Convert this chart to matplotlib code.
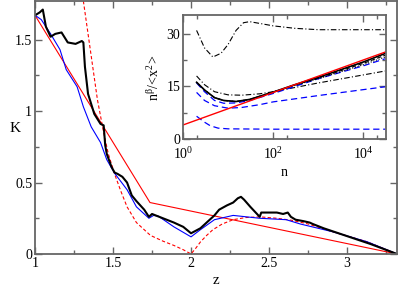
import matplotlib
matplotlib.use("Agg")
import numpy as np
from matplotlib import pyplot as plt
from matplotlib.ticker import FixedLocator, NullFormatter

plt.rcParams['font.family'] = ['Liberation Serif', 'DejaVu Serif']
plt.rcParams['mathtext.fontset'] = 'stix'

# main panel: K versus z
z_red = [1.0, 1.737, 3.32]
k_red = [1.67, 0.36, 0.0]

z_red_dash = [1.31, 1.34, 1.37, 1.40, 1.44, 1.47, 1.51, 1.55, 1.59, 1.65, 1.74, 1.82, 1.89,
              1.95, 2.0, 2.03, 2.06, 2.10, 2.14, 2.20, 2.27, 2.35, 2.44, 2.55, 2.65, 2.75,
              2.91, 3.13, 3.32]
k_red_dash = [1.77, 1.54, 1.31, 1.08, 0.85, 0.70, 0.56, 0.44, 0.33, 0.22, 0.13, 0.09, 0.06,
              0.03, 0.0, 0.04, 0.084, 0.13, 0.17, 0.21, 0.24, 0.255, 0.26, 0.25, 0.235, 0.21,
              0.155, 0.085, 0.0]

z_blue = [1.0, 1.04, 1.1, 1.16, 1.2, 1.27, 1.31, 1.36, 1.42, 1.46, 1.51, 1.59, 1.65, 1.73,
          1.76, 1.79, 1.89, 2.0, 2.06, 2.15, 2.27, 2.44, 2.61, 2.70, 2.91, 3.13, 3.32]
k_blue = [1.67, 1.64, 1.54, 1.43, 1.29, 1.17, 1.03, 0.89, 0.78, 0.66, 0.565, 0.45, 0.33, 0.25,
          0.27, 0.265, 0.19, 0.12, 0.17, 0.24, 0.27, 0.25, 0.24, 0.21, 0.155, 0.085, 0.0]

z_black = [1.0, 1.03, 1.05, 1.07, 1.1, 1.13, 1.17, 1.21, 1.26, 1.30, 1.31, 1.32, 1.34, 1.38,
           1.42, 1.44, 1.45, 1.46, 1.49, 1.51, 1.53, 1.56, 1.59, 1.62, 1.65, 1.70, 1.73,
           1.75, 1.82, 1.89, 1.95, 2.0, 2.06, 2.12, 2.15, 2.18, 2.23, 2.27, 2.30, 2.32, 2.34,
           2.38, 2.44, 2.45, 2.50, 2.55, 2.59, 2.62, 2.64, 2.67, 2.72, 2.76, 2.78, 2.85,
           3.0, 3.15, 3.32]
k_black = [1.67, 1.69, 1.71, 1.59, 1.52, 1.54, 1.55, 1.48, 1.47, 1.49, 1.48, 1.31, 1.12, 0.98,
           0.91, 0.90, 0.76, 0.70, 0.61, 0.57, 0.56, 0.54, 0.50, 0.41, 0.37, 0.31, 0.26,
           0.28, 0.25, 0.22, 0.19, 0.145, 0.18, 0.24, 0.27, 0.31, 0.34, 0.36, 0.39, 0.40, 0.38,
           0.33, 0.26, 0.29, 0.29, 0.29, 0.28, 0.29, 0.26, 0.24, 0.23, 0.22, 0.21, 0.18,
           0.125, 0.07, 0.0]

# inset: n^beta/<x^2> versus n
n_red = [1.0, 10 ** 4.5]
v_red = [4.0, 24.9]

n_dd1 = [2, 3, 4.6, 7, 10, 15, 22, 30, 50, 100, 300, 1000, 3e4]
v_dd1 = [31.0, 26.0, 23.4, 24.5, 27.0, 31.0, 33.2, 33.5, 33.0, 32.3, 31.6, 31.2, 31.2]

n_dd2 = [2, 3, 5, 10, 20, 50, 100, 1000, 1e4, 3e4]
v_dd2 = [18.0, 15.5, 13.5, 12.6, 12.5, 12.9, 13.5, 16.0, 18.3, 19.4]

n_blk = [2, 3, 5, 8, 15, 30, 60, 100, 300, 1000, 1e4, 3e4]
v_blk = [16.2, 14.0, 11.8, 11.0, 10.7, 11.3, 12.5, 13.4, 15.5, 17.6, 22.0, 24.4]
v_blk_dash = [16.2, 14.0, 11.8, 11.0, 10.7, 11.3, 12.5, 13.4, 15.4, 17.4, 21.6, 23.9]
v_blk_dot = [16.2, 14.0, 11.8, 11.0, 10.7, 11.3, 12.5, 13.4, 15.3, 17.2, 21.2, 23.4]

n_b1 = [2, 3, 5, 8, 15, 30, 100, 1000, 1e4, 3e4]
v_b1 = [16.0, 13.5, 11.0, 10.2, 10.3, 11.0, 13.0, 17.2, 20.9, 22.9]

n_b2 = [2, 3, 5, 10, 20, 50, 100, 1000, 1e4, 3e4]
v_b2 = [13.3, 11.0, 9.5, 8.8, 9.0, 9.8, 10.6, 12.4, 14.1, 14.9]

n_b3 = [2, 3, 4, 6, 10, 100, 3e4]
v_b3 = [6.5, 4.8, 3.8, 3.1, 2.9, 2.8, 2.8]

fig = plt.figure(figsize=(3.99, 2.88), dpi=100)
spine_col = '#666666'


def style_axes(ax, size):
    for s in ax.spines.values():
        s.set_color(spine_col)
        s.set_linewidth(1.3)
    ax.tick_params(which='both', direction='in', top=True, right=True,
                   color=spine_col, labelsize=size, pad=2)
    ax.tick_params(which='major', length=5, width=1)
    ax.tick_params(which='minor', length=3, width=1)


ax = fig.add_axes([35 / 399, 34 / 288, 362 / 399, 253 / 288])
ax.plot(z_red, k_red, color='#ff0000', lw=0.8)
ax.plot(z_red_dash, k_red_dash, color='#ff0000', lw=0.8, ls=(0, (3, 2)))
ax.plot(z_blue, k_blue, color='#0000ff', lw=0.8)
ax.plot(z_black, k_black, color='black', lw=1.5)
ax.set_xlim(1, 3.32)
ax.set_ylim(0, 1.77)
ax.xaxis.set_major_locator(FixedLocator([1, 1.5, 2, 2.5, 3]))
ax.xaxis.set_minor_locator(FixedLocator([1.25, 1.75, 2.25, 2.75, 3.25]))
ax.yaxis.set_major_locator(FixedLocator([0, 0.5, 1, 1.5]))
ax.yaxis.set_minor_locator(FixedLocator([0.25, 0.75, 1.25]))
ax.set_xticklabels(['1', '1.5', '2', '2.5', '3'])
ax.set_yticklabels(['0', '0.5', '1', '1.5'])
style_axes(ax, 10)
fig.text(216 / 399, 1 - 281 / 288, 'z', fontsize=11, ha='center', va='center')
fig.text(15 / 399, 1 - 128 / 288, 'K', fontsize=11, ha='center', va='center')

ins = fig.add_axes([183 / 399, 149 / 288, 203 / 399, 124 / 288])
ins.set_xscale('log')
ins.plot(n_dd1, v_dd1, color='black', lw=0.8, ls=(0, (5, 2, 1, 2)))
ins.plot(n_dd2, v_dd2, color='black', lw=0.8, ls=(0, (5, 2, 1, 2)))
ins.plot(n_b3, v_b3, color='#0000ff', lw=0.9, ls=(0, (5, 3)))
ins.plot(n_b2, v_b2, color='#0000ff', lw=0.9, ls=(0, (5, 3)))
ins.plot(n_b1, v_b1, color='#0000ff', lw=0.9, ls=(0, (5, 3)))
ins.plot(n_blk, v_blk_dot, color='black', lw=0.8, ls=(0, (1, 1.5)))
ins.plot(n_blk, v_blk_dash, color='black', lw=0.8, ls=(0, (4, 2)))
ins.plot(n_blk, v_blk, color='black', lw=1.2)
ins.plot(n_red, v_red, color='#ff0000', lw=1.0)
ins.set_xlim(1, 10 ** 4.5)
ins.set_ylim(0, 35.4)
ins.xaxis.set_major_locator(FixedLocator([1, 1e2, 1e4]))
ins.xaxis.set_minor_locator(FixedLocator([2, 200, 2e4]))
ins.xaxis.set_minor_formatter(NullFormatter())
ins.set_xticklabels(['$\\mathregular{10^0}$', '$\\mathregular{10^2}$', '$\\mathregular{10^4}$'])
ins.yaxis.set_major_locator(FixedLocator([0, 15, 30]))
ins.yaxis.set_minor_locator(FixedLocator([7.5, 22.5]))
ins.set_yticklabels(['0', '15', '30'])
style_axes(ins, 10)
ins.tick_params(axis='x', pad=5)
fig.text(284 / 399, 1 - 172 / 288, 'n', fontsize=10, ha='center', va='center')
fig.text(154 / 399, 1 - 78 / 288, r'$\mathregular{n^{\beta}/\!<\!x^2\!>}$', fontsize=10,
         rotation=90, ha='center', va='center')

fig.savefig('out.png', dpi=100)
